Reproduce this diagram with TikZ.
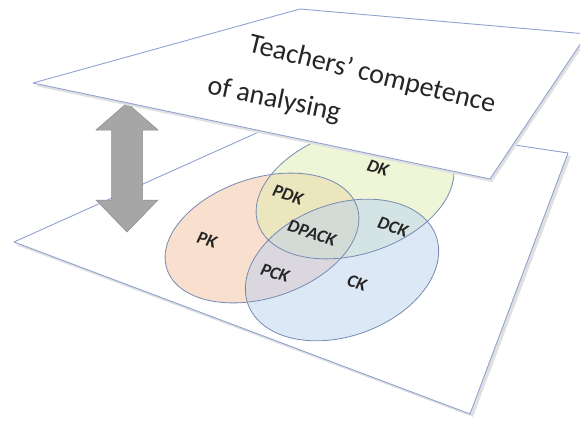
\documentclass[tikz,border=0pt]{standalone}
\usepackage{fontspec}
\setmainfont{Carlito}
\definecolor{planeline}{RGB}{143,162,208}
\definecolor{rimline}{RGB}{118,138,178}
\definecolor{pkfill}{RGB}{245,192,156}
\definecolor{dkfill}{RGB}{222,238,176}
\definecolor{ckfill}{RGB}{188,210,240}
\definecolor{arrowgray}{RGB}{166,166,166}
\tikzset{
  plane/.style={draw=planeline, line width=0.9pt, fill=white, line join=round},
  planeshade/.style={fill=black!12},
  setfill/.style={fill opacity=0.5},
  setrim/.style={draw=rimline, line width=0.8pt},
  lbl/.style={font=\fontsize{18}{21}\selectfont\bfseries\itshape, text=black!85, rotate=-18, inner sep=0pt},
  title/.style={font=\fontsize{28}{32}\selectfont, text=black!85, inner sep=0pt}
}
\begin{document}
\begin{tikzpicture}[x=1pt,y=-1pt]
\useasboundingbox (0,0) rectangle (580,420);
\clip (0,0) rectangle (580,420);
\fill[planeshade] (16,245) -- (303,116) -- (571,156) -- (473,417) -- cycle;
\draw[plane] (14,242) -- (301,113) -- (568,153) -- (470,414) -- cycle;
\begin{scope}[setfill]
\fill[pkfill] (262,238) ellipse[x radius=100, y radius=60, rotate=18];
\fill[dkfill] (355,192) ellipse[x radius=102, y radius=62, rotate=18];
\fill[ckfill] (342,270) ellipse[x radius=100, y radius=66, rotate=20];
\end{scope}
\draw[setrim] (262,238) ellipse[x radius=100, y radius=60, rotate=18];
\draw[setrim] (355,192) ellipse[x radius=102, y radius=62, rotate=18];
\draw[setrim] (342,270) ellipse[x radius=100, y radius=66, rotate=20];
\node[lbl] (dk) at (378,168) {DK};
\node[lbl] (pdk) at (288,195) {PDK};
\node[lbl] (dpack) at (312,233) {DPACK};
\node[lbl] (dck) at (393,227) {DCK};
\node[lbl] (pk) at (207,240) {PK};
\node[lbl] (pck) at (275,273) {PCK};
\node[lbl] (ck) at (357,283) {CK};
\filldraw[fill=arrowgray, draw=black!45, line width=0.5pt] (127,103) -- (158,130) -- (142.5,130) -- (142.5,200) -- (158,200) -- (127,232) -- (96,200) -- (111.5,200) -- (111.5,130) -- (96,130) -- cycle;
\fill[planeshade] (35,86) -- (302,12) -- (589,37) -- (492,182) -- cycle;
\draw[plane] (33,83) -- (300,9) -- (587,34) -- (490,179) -- cycle;
\node[title, rotate=-14] (line1) at (372,75) {Teachers' competence};
\node[title, rotate=-12] (line2) at (274,100) {of analysing};
\end{tikzpicture}
\end{document}
